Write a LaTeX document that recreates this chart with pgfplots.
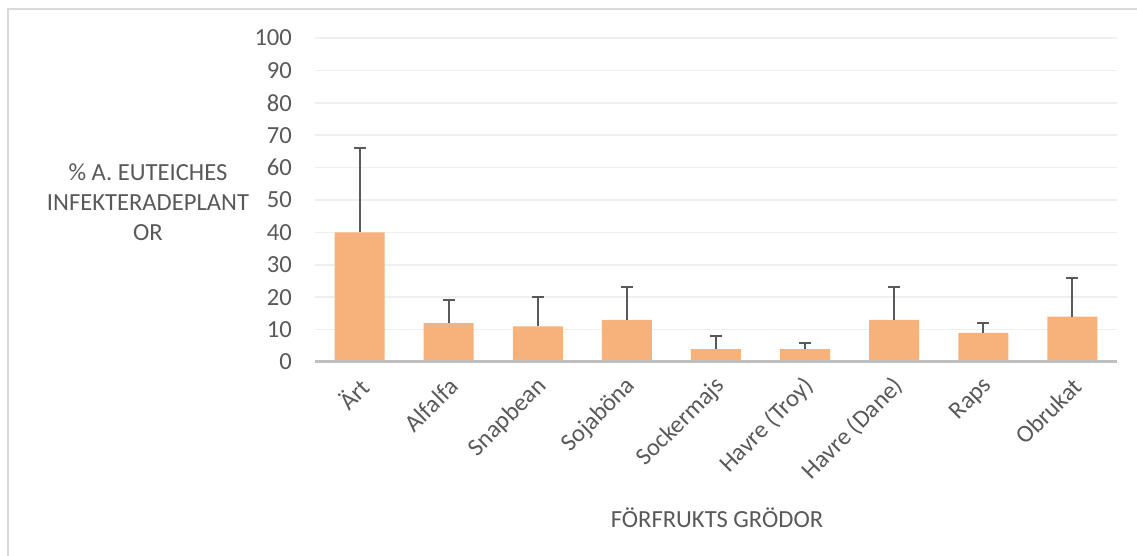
\documentclass[border=0pt]{standalone}
\usepackage{pgfplots}
\pgfplotsset{compat=1.18}
\usepackage{fontspec}
\setmainfont{Carlito}
\definecolor{barc}{HTML}{F7B27B}
\definecolor{txt}{HTML}{595959}
\definecolor{gridc}{HTML}{EFEFEF}
\definecolor{axc}{HTML}{BFBFBF}
\definecolor{brd}{HTML}{D9D9D9}
\begin{document}
\begin{tikzpicture}
\useasboundingbox (-157.5pt,-97pt) rectangle (411pt,181pt);
\begin{axis}[
  at={(0,0)}, anchor=south west,
  scale only axis, width=401pt, height=162pt,
  xmin=-0.5, xmax=8.5, ymin=0, ymax=100,
  ytick={0,10,...,100},
  xtick=data,
  xticklabels={Ärt,Alfalfa,Snapbean,Sojaböna,Sockermajs,Havre (Troy),Havre (Dane),Raps,Obrukat},
  xticklabel style={rotate=45, anchor=east, font=\fontsize{12.3}{14}\selectfont, text=txt, xshift=-2pt, yshift=-9pt},
  yticklabel style={font=\fontsize{12.3}{14}\selectfont, text=txt, xshift=-8pt},
  /pgf/number format/assume math mode=true,
  major tick length=0pt,
  axis line style={draw=none},
  axis x line*=bottom, axis y line*=left,
  ymajorgrids, grid style={gridc, line width=0.8pt},
  clip=false,
]
\addplot[ybar, bar width=25pt, fill=barc, draw=none,
  error bars/.cd, y dir=plus, y explicit,
  error bar style={color=txt, line width=1pt},
  error mark options={rotate=90, mark size=3pt, color=txt, line width=1pt}]
  coordinates {
  (0,40) +- (0,26)
  (1,12) +- (0,7)
  (2,11) +- (0,9)
  (3,13) +- (0,10)
  (4,4) +- (0,4)
  (5,4) +- (0,2)
  (6,13) +- (0,10)
  (7,9) +- (0,3)
  (8,14) +- (0,12)
  };
\draw[axc, line width=1.5pt] (axis cs:-0.5,0) -- (axis cs:8.5,0);
\end{axis}
\node[align=center, text=txt, font=\fontsize{12.3}{15}\selectfont] at (-83.5pt,80pt) {\% A. EUTEICHES\\INFEKTERADEPLANT\\OR};
\node[text=txt, font=\fontsize{12.3}{14}\selectfont] at (201pt,-78pt) {FÖRFRUKTS GRÖDOR};
\draw[brd, line width=0.8pt] (-153.5pt,-97pt) -- (-153.5pt,176.5pt) -- (411pt,176.5pt);
\end{tikzpicture}
\end{document}
